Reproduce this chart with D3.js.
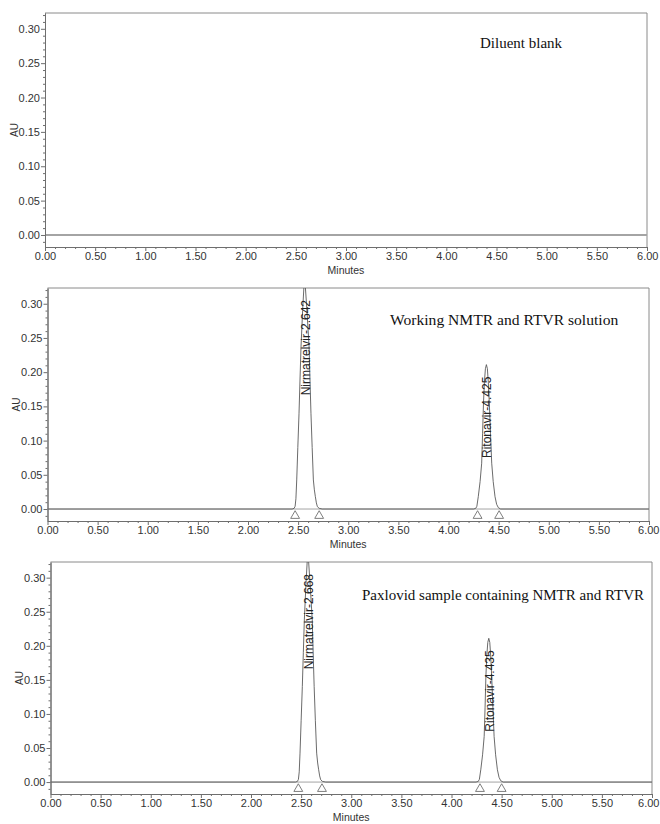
<!DOCTYPE html>
<html>
<head>
<meta charset="utf-8">
<script src="https://cdn.jsdelivr.net/npm/d3@7"></script>
<style>
  html, body { margin: 0; padding: 0; background: #fff; }
  svg { display: block; }
  .tick text { font-family: "Liberation Sans", Arial, sans-serif; }
</style>
</head>
<body>
<svg id="chart" width="660" height="824"></svg>
<script>
// ---------------- DATA ----------------
const xTickValues = [0, 0.5, 1, 1.5, 2, 2.5, 3, 3.5, 4, 4.5, 5, 5.5, 6];
const xTickLabels = ["0.00","0.50","1.00","1.50","2.00","2.50","3.00","3.50","4.00","4.50","5.00","5.50","6.00"];
const yTickValues = [0, 0.05, 0.10, 0.15, 0.20, 0.25, 0.30];
const yTickLabels = ["0.00","0.05","0.10","0.15","0.20","0.25","0.30"];

const panelTitles = ["Diluent blank", "Working NMTR and RTVR solution", "Paxlovid sample containing NMTR and RTVR"];

// Diluent blank: flat baseline (minutes, AU)
const blankTrace = [[0, 0], [6, 0]];

// Working solution trace (minutes, AU)
const workingTrace = [
  [0, 0], [2.44, 0], [2.46, 0.001], [2.47, 0.004], [2.478, 0.015], [2.486, 0.0425],
  [2.497, 0.09], [2.509, 0.14], [2.519, 0.19], [2.529, 0.238], [2.545, 0.29],
  [2.558, 0.325], [2.565, 0.335], [2.572, 0.325], [2.588, 0.29], [2.609, 0.238],
  [2.618, 0.19], [2.628, 0.14], [2.640, 0.09], [2.652, 0.0425], [2.662, 0.028],
  [2.672, 0.018], [2.682, 0.009], [2.692, 0.0035], [2.71, 0.001], [2.74, 0],
  [4.25, 0], [4.272, 0.001], [4.283, 0.004], [4.297, 0.018], [4.315, 0.04],
  [4.331, 0.067], [4.340, 0.11], [4.349, 0.155], [4.358, 0.185], [4.368, 0.205],
  [4.378, 0.211], [4.388, 0.205], [4.397, 0.185], [4.407, 0.155], [4.419, 0.11],
  [4.431, 0.067], [4.446, 0.04], [4.464, 0.018], [4.48, 0.007], [4.497, 0.002],
  [4.52, 0], [6, 0]
];
const workingPeakNames = ["Nirmatrelvir-2.642", "Ritonavir-4.425"];
const workingPeakApex = [[2.565, 0.335], [4.378, 0.211]];
const workingPeakBounds = [[2.47, 2.71], [4.29, 4.505]];

// Paxlovid sample trace (minutes, AU)
const sampleTrace = [
  [0, 0], [2.445, 0], [2.463, 0.001], [2.473, 0.004], [2.481, 0.015], [2.489, 0.0425],
  [2.500, 0.09], [2.512, 0.14], [2.522, 0.19], [2.532, 0.238], [2.548, 0.29],
  [2.561, 0.325], [2.567, 0.335], [2.574, 0.325], [2.590, 0.29], [2.611, 0.238],
  [2.620, 0.19], [2.630, 0.14], [2.642, 0.09], [2.655, 0.0425], [2.665, 0.028],
  [2.675, 0.018], [2.685, 0.009], [2.695, 0.0035], [2.713, 0.001], [2.745, 0],
  [4.245, 0], [4.267, 0.001], [4.278, 0.004], [4.292, 0.018], [4.310, 0.04],
  [4.326, 0.067], [4.335, 0.11], [4.343, 0.155], [4.352, 0.185], [4.362, 0.205],
  [4.372, 0.211], [4.382, 0.205], [4.391, 0.185], [4.401, 0.155], [4.413, 0.11],
  [4.425, 0.067], [4.440, 0.04], [4.458, 0.018], [4.474, 0.007], [4.491, 0.002],
  [4.515, 0], [6, 0]
];
const samplePeakNames = ["Nirmatrelvir-2.668", "Ritonavir-4.435"];
const samplePeakApex = [[2.567, 0.335], [4.372, 0.211]];
const samplePeakBounds = [[2.472, 2.708], [4.284, 4.50]];

// ---------------- LAYOUT ----------------
const panels = [
  { box: {left: 45,   right: 647, top: 13,  bottom: 247}, title: panelTitles[0], titleX: 480, titleDy: 35, titleSize: 15,
    trace: blankTrace, names: [], apex: [], bounds: [], zeroWidth: 2 },
  { box: {left: 47.5, right: 649, top: 288, bottom: 521}, title: panelTitles[1], titleX: 390, titleDy: 37, titleSize: 15.6,
    trace: workingTrace, names: workingPeakNames, apex: workingPeakApex, bounds: workingPeakBounds, zeroWidth: 1 },
  { box: {left: 50.5, right: 652, top: 562, bottom: 794}, title: panelTitles[2], titleX: 362, titleDy: 38, titleSize: 15,
    trace: sampleTrace, names: samplePeakNames, apex: samplePeakApex, bounds: samplePeakBounds, zeroWidth: 1 }
];

const svg = d3.select("#chart");
const axisColor = "#6e6e6e";
const sans = '"Liberation Sans", Arial, sans-serif';
const serif = '"Liberation Serif", "Times New Roman", serif';

const xMinor = d3.range(0, 60.5, 1).map(d => d / 10).filter(d => Math.abs(d * 2 - Math.round(d * 2)) > 1e-6);
const yMinor = d3.range(-1, 33, 1).map(d => d / 100).filter(d => Math.abs(d * 20 - Math.round(d * 20)) > 1e-6);

panels.forEach((p, i) => {
  const b = p.box;
  const x = d3.scaleLinear().domain([0, 6]).range([b.left, b.right]);
  const y = d3.scaleLinear().domain([-0.0175, 0.323]).range([b.bottom, b.top]);
  const g = svg.append("g");

  const clipId = "clip" + i;
  svg.append("clipPath").attr("id", clipId)
    .append("rect").attr("x", b.left).attr("y", b.top)
    .attr("width", b.right - b.left).attr("height", b.bottom - b.top);

  // top and right frame
  g.append("path")
    .attr("d", `M${b.left},${b.top}H${b.right}V${b.bottom}`)
    .attr("fill", "none").attr("stroke", "#8a8a8a").attr("stroke-width", 1);

  // zero line
  g.append("line")
    .attr("x1", b.left).attr("x2", b.right)
    .attr("y1", y(0)).attr("y2", y(0))
    .attr("stroke", "#a4a4a4").attr("stroke-width", p.zeroWidth);

  // trace
  const line = d3.line().x(d => x(d[0])).y(d => y(d[1]));
  g.append("path")
    .datum(p.trace)
    .attr("clip-path", `url(#${clipId})`)
    .attr("d", line)
    .attr("fill", "none")
    .attr("stroke", p.trace.length > 2 ? "#5a5a5a" : "#a4a4a4")
    .attr("stroke-width", p.trace.length > 2 ? 0.9 : p.zeroWidth);

  // peak boundary triangles
  const tri = d3.symbol().type(d3.symbolTriangle).size(34);
  p.bounds.forEach(bd => {
    bd.forEach(t => {
      g.append("path")
        .attr("d", tri())
        .attr("transform", `translate(${x(t)},${y(0) + 6.8})`)
        .attr("fill", "none").attr("stroke", "#707070").attr("stroke-width", 0.9);
    });
  });

  // peak labels
  p.names.forEach((name, k) => {
    const ax = x(p.apex[k][0]) + 1;
    const ay = Math.max(y(p.apex[k][1]), b.top) + 12;
    g.append("text")
      .attr("transform", `translate(${ax},${ay}) rotate(-90)`)
      .attr("text-anchor", "end")
      .attr("dominant-baseline", "central")
      .attr("font-family", sans).attr("font-size", 12)
      .attr("fill", "#222")
      .text(name);
  });

  // y axis major
  const yAxis = g.append("g").attr("transform", `translate(${b.left},0)`)
    .call(d3.axisLeft(y).tickValues(yTickValues)
      .tickFormat((d, j) => yTickLabels[j]).tickSize(4).tickPadding(1).tickSizeOuter(0));
  // y axis minor
  const yAxisMinor = g.append("g").attr("transform", `translate(${b.left},0)`)
    .call(d3.axisLeft(y).tickValues(yMinor).tickFormat("").tickSize(2).tickSizeOuter(0));
  // x axis major
  const xAxis = g.append("g").attr("transform", `translate(0,${b.bottom})`)
    .call(d3.axisBottom(x).tickValues(xTickValues)
      .tickFormat((d, j) => xTickLabels[j]).tickSize(4).tickPadding(1).tickSizeOuter(0));
  const xAxisMinor = g.append("g").attr("transform", `translate(0,${b.bottom})`)
    .call(d3.axisBottom(x).tickValues(xMinor).tickFormat("").tickSize(2).tickSizeOuter(0));

  [yAxis, yAxisMinor, xAxis, xAxisMinor].forEach(a => {
    a.select(".domain").attr("stroke", axisColor);
    a.selectAll(".tick line").attr("stroke", axisColor);
    a.selectAll(".tick text").attr("fill", "#333").attr("font-size", 11).attr("font-family", sans);
  });
  // keep the last x label inside the page
  xAxis.selectAll(".tick text").filter((d, j) => j === xTickValues.length - 1)
    .attr("text-anchor", "end").attr("x", Math.min(11, 659 - b.right));

  // axis titles
  g.append("text")
    .attr("x", (b.left + b.right) / 2).attr("y", b.bottom + 27)
    .attr("text-anchor", "middle")
    .attr("font-family", sans).attr("font-size", 10.5).attr("fill", "#333")
    .text("Minutes");
  g.append("text")
    .attr("transform", `translate(${b.left - 31},${(b.top + b.bottom) / 2}) rotate(-90)`)
    .attr("text-anchor", "middle")
    .attr("dominant-baseline", "central")
    .attr("font-family", sans).attr("font-size", 10).attr("fill", "#333")
    .text("AU");

  // panel title
  g.append("text")
    .attr("x", p.titleX).attr("y", b.top + p.titleDy)
    .attr("font-family", serif).attr("font-size", p.titleSize).attr("fill", "#111")
    .text(p.title);
});
</script>
</body>
</html>
